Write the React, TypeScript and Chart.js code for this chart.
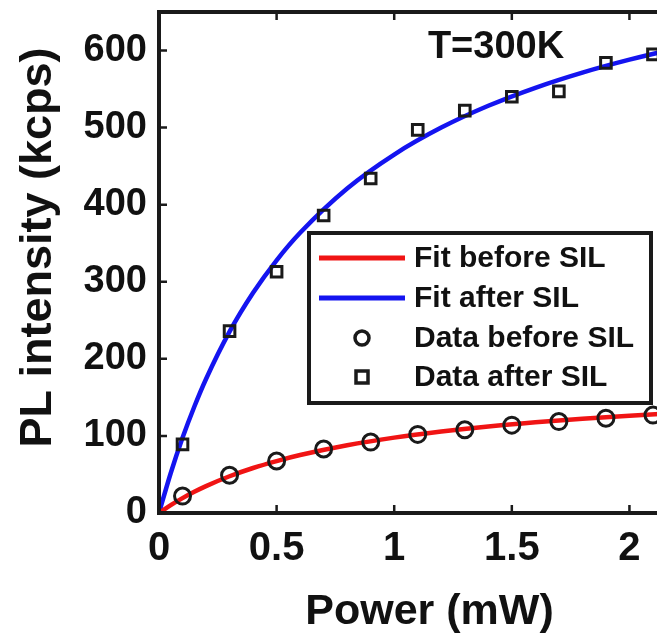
import { useEffect, useRef } from 'react';
import { Chart, registerables } from 'chart.js';
Chart.register(...registerables);

const powerData = [0.1, 0.3, 0.5, 0.7, 0.9, 1.1, 1.3, 1.5, 1.7, 1.9, 2.1];
const dataBeforeSIL = [22, 49, 67.5, 83, 92, 102, 108, 114, 118.6, 123, 127];
const dataAfterSIL = [89, 236, 313, 386, 434, 497, 522, 540, 547, 584, 595];
const fitPower = [0, 0.05, 0.1, 0.15, 0.2, 0.3, 0.4, 0.5, 0.6, 0.8, 1.0, 1.2, 1.4, 1.6, 1.8, 2.0, 2.2, 2.3];
const fitBeforeSIL = [0, 10.2, 19.3, 27.5, 34.9, 47.7, 58.4, 67.4, 75.2, 87.9, 97.8, 105.7, 112.3, 117.7, 122.3, 126.2, 129.7, 131.2];
const fitAfterSIL = [0, 51.9, 97.6, 137.9, 173.9, 235.3, 285.7, 327.9, 363.6, 421.1, 465.1, 500, 528.3, 551.7, 571.4, 588.2, 602.7, 609.3];
const xTicks = [0, 0.5, 1, 1.5, 2];
const yTicks = [0, 100, 200, 300, 400, 500, 600];
const legendLabels = ['Fit before SIL', 'Fit after SIL', 'Data before SIL', 'Data after SIL'];
const annotationText = 'T=300K';
const yTitleText = 'PL intensity (kcps)';
const xTitleText = 'Power (mW)';

const FONT = "'Liberation Sans', Arial, Helvetica, sans-serif";
const INK = '#1a1a1a';
const RED = '#f01414';
const BLUE = '#1414f0';

const framePlugin = {
  id: 'frameAndLegend',
  afterDraw(chart: any) {
    const { ctx, chartArea } = chart;
    const { left, right, top, bottom } = chartArea;
    const xs = chart.scales.x;
    const ys = chart.scales.y;
    ctx.save();
    ctx.strokeStyle = INK;
    ctx.lineWidth = 2.5;
    const tl = 8;
    ctx.beginPath();
    for (const v of xTicks) {
      const px = xs.getPixelForValue(v);
      ctx.moveTo(px, bottom);
      ctx.lineTo(px, bottom - tl);
      ctx.moveTo(px, top);
      ctx.lineTo(px, top + tl);
    }
    for (const v of yTicks) {
      const py = ys.getPixelForValue(v);
      ctx.moveTo(left, py);
      ctx.lineTo(left + tl, py);
      ctx.moveTo(right, py);
      ctx.lineTo(right - tl, py);
    }
    ctx.stroke();
    ctx.lineWidth = 4;
    ctx.strokeRect(left, top, right - left, bottom - top);

    // y axis title
    ctx.fillStyle = '#111';
    ctx.font = `bold 45px ${FONT}`;
    ctx.textAlign = 'center';
    ctx.textBaseline = 'middle';
    ctx.save();
    ctx.translate(39, (top + bottom) / 2 - 15);
    ctx.rotate(-Math.PI / 2);
    ctx.fillText(yTitleText, 0, 0);
    ctx.restore();

    // annotation
    ctx.font = `bold 38px ${FONT}`;
    ctx.fillText(annotationText, left + 337, top + 36);

    // legend
    const lx = left + 150;
    const ly = 233;
    const lw = 342;
    const lh = 170;
    ctx.fillStyle = '#fff';
    ctx.fillRect(lx, ly, lw, lh);
    ctx.lineWidth = 4;
    ctx.strokeStyle = INK;
    ctx.strokeRect(lx, ly, lw, lh);
    const rows = [258, 298, 338, 377];
    ctx.font = `bold 30px ${FONT}`;
    ctx.textAlign = 'left';
    ctx.textBaseline = 'middle';
    rows.forEach((ry, i) => {
      if (i < 2) {
        ctx.strokeStyle = i === 0 ? RED : BLUE;
        ctx.lineWidth = 5;
        ctx.beginPath();
        ctx.moveTo(lx + 10, ry);
        ctx.lineTo(lx + 96, ry);
        ctx.stroke();
      } else if (i === 2) {
        ctx.strokeStyle = INK;
        ctx.lineWidth = 3.5;
        ctx.beginPath();
        ctx.arc(lx + 53, ry, 7, 0, Math.PI * 2);
        ctx.stroke();
      } else {
        ctx.strokeStyle = INK;
        ctx.lineWidth = 3.5;
        ctx.strokeRect(lx + 47, ry - 6, 12, 12);
      }
      ctx.fillStyle = '#111';
      ctx.fillText(legendLabels[i], lx + 105, ry + 1);
    });
    ctx.restore();
  },
};

export default function App() {
  const ref = useRef<HTMLCanvasElement | null>(null);
  useEffect(() => {
    document.body.style.margin = '0';
    const canvas = ref.current;
    if (!canvas) return;
    const chart = new Chart(canvas, {
      type: 'line',
      data: {
        datasets: [
          {
            label: 'Data before SIL',
            type: 'scatter',
            data: powerData.map((x, i) => ({ x, y: dataBeforeSIL[i] })),
            pointStyle: 'circle',
            pointRadius: 8,
            pointBorderWidth: 3,
            pointBorderColor: INK,
            pointBackgroundColor: 'rgba(0,0,0,0)',
            showLine: false,
          } as any,
          {
            label: 'Data after SIL',
            type: 'scatter',
            data: powerData.map((x, i) => ({ x, y: dataAfterSIL[i] })),
            pointStyle: 'rect',
            pointRadius: 7.5,
            pointBorderWidth: 3,
            pointBorderColor: INK,
            pointBackgroundColor: 'rgba(0,0,0,0)',
            showLine: false,
          } as any,
          {
            label: 'Fit before SIL',
            data: fitPower.map((x, i) => ({ x, y: fitBeforeSIL[i] })),
            borderColor: RED,
            borderWidth: 4.5,
            pointRadius: 0,
            cubicInterpolationMode: 'monotone',
          } as any,
          {
            label: 'Fit after SIL',
            data: fitPower.map((x, i) => ({ x, y: fitAfterSIL[i] })),
            borderColor: BLUE,
            borderWidth: 4.5,
            pointRadius: 0,
            cubicInterpolationMode: 'monotone',
          } as any,
        ],
      },
      options: {
        animation: false,
        responsive: false,
        devicePixelRatio: 1,
        layout: { padding: { left: 0, top: 12, right: 20, bottom: 0 } },
        plugins: { legend: { display: false }, tooltip: { enabled: false } },
        scales: {
          x: {
            type: 'linear',
            min: 0,
            max: 2.3,
            afterBuildTicks: (s: any) => {
              s.ticks = xTicks.map((v) => ({ value: v }));
            },
            afterFit: (s: any) => {
              s.height = 125;
              s.paddingLeft = 0;
              s.paddingRight = 0;
            },
            grid: { display: false, drawTicks: false },
            border: { display: false },
            ticks: {
              padding: 12,
              color: '#111',
              font: { family: FONT, size: 40, weight: 'bold' },
              callback: (v: any) => String(v),
              maxRotation: 0,
            },
            title: {
              display: true,
              text: xTitleText,
              color: '#111',
              font: { family: FONT, size: 43, weight: 'bold' },
              padding: { top: 0, bottom: 0 },
            },
          },
          y: {
            type: 'linear',
            min: 0,
            max: 650,
            afterBuildTicks: (s: any) => {
              s.ticks = yTicks.map((v) => ({ value: v }));
            },
            afterFit: (s: any) => {
              s.width = 159;
              s.paddingTop = 0;
              s.paddingBottom = 0;
            },
            grid: { display: false, drawTicks: false },
            border: { display: false },
            ticks: {
              padding: 12,
              color: '#111',
              font: { family: FONT, size: 38, weight: 'bold' },
              callback: (v: any) => String(v),
            },
            title: { display: false },
          },
        },
      },
      plugins: [framePlugin],
    });
    return () => chart.destroy();
  }, []);
  return (
    <div style={{ width: 657, height: 638, overflow: 'hidden', position: 'relative', background: '#fff' }}>
      <canvas ref={ref} width={720} height={638} style={{ display: 'block', width: 720, height: 638 }} />
    </div>
  );
}
